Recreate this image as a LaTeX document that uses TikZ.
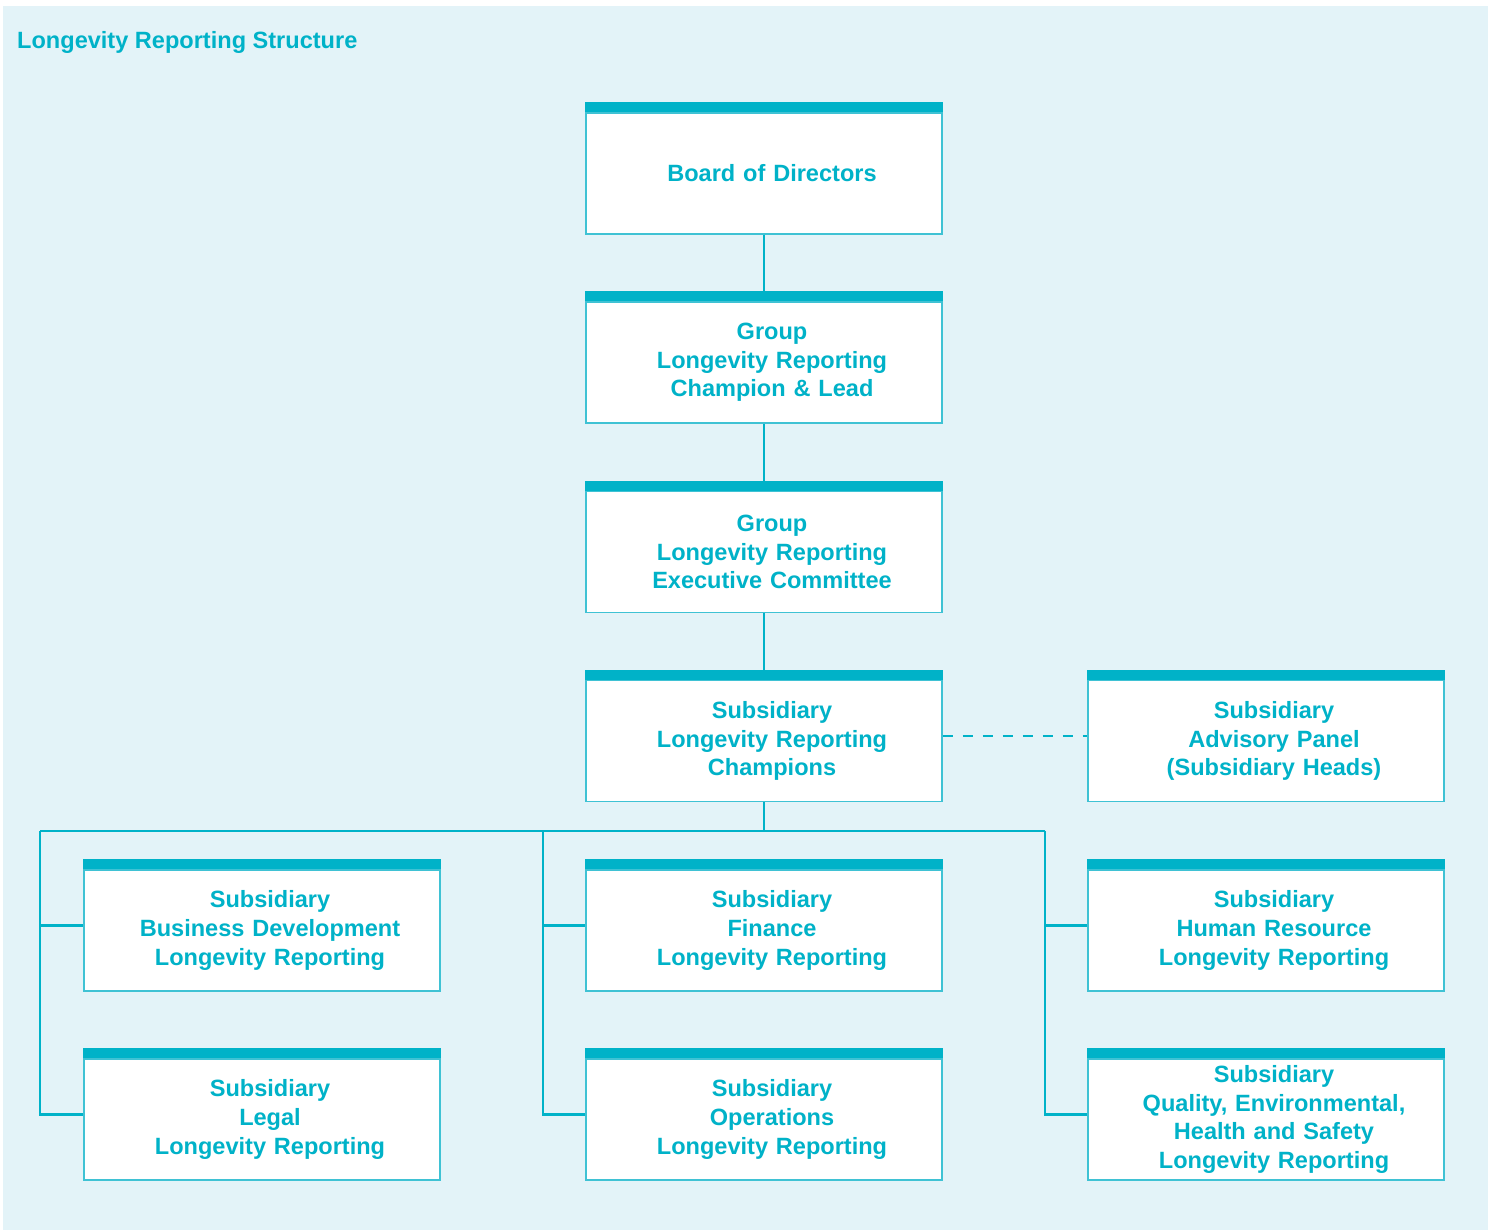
\documentclass[tikz,border=0pt]{standalone}
\usepackage{fontspec}
\setmainfont{Liberation Sans}
\usepackage{xcolor}
\usetikzlibrary{positioning}
\definecolor{lrcyan}{HTML}{00B2C8}
\definecolor{lrline}{HTML}{3FC2D4}
\definecolor{lrbg}{HTML}{E3F3F8}

\begin{document}
\begin{tikzpicture}[
  box/.style={draw=lrline, fill=white, line width=0.6pt, minimum width=7.12cm, minimum height=2.42cm,
              inner sep=0pt, text width=7.12cm, align=center, text=lrcyan,
              font=\fontsize{13.4}{16.3}\selectfont\bfseries,
              execute at begin node={\leftskip=0.32cm plus 1fil\rightskip=0pt plus 1fil}},
  bar/.style={fill=lrcyan},
  link/.style={draw=lrcyan, line width=1.25pt},
  dlink/.style={link, dash pattern=on 0.2cm off 0.2cm}
]
\fill[lrbg] (0.06,0) rectangle (29.76,24.48);
\useasboundingbox (0,0) rectangle (29.76,24.6);

% Title
\node[anchor=west, text=lrcyan, font=\fontsize{13.4}{16}\selectfont\bfseries] (title) at (0.22,23.76) {Longevity Reporting Structure};

% Main column
\node[box] (board) at (15.28,21.13) {Board of Directors};
\node[box] (champ) at (15.28,17.35) {Group\\Longevity Reporting\\Champion \& Lead};
\node[box] (exec)  at (15.28,13.56) {Group\\Longevity Reporting\\Executive Committee};
\node[box] (subch) at (15.28,9.78)  {Subsidiary\\Longevity Reporting\\Champions};
\node[box] (panel) at (25.32,9.78)  {Subsidiary\\Advisory Panel\\(Subsidiary Heads)};

% Subsidiary functions
\node[box] (bizdev)  at (5.24,5.99)  {Subsidiary\\Business Development\\Longevity Reporting};
\node[box] (finance) at (15.28,5.99) {Subsidiary\\Finance\\Longevity Reporting};
\node[box] (hr)      at (25.32,5.99) {Subsidiary\\Human Resource\\Longevity Reporting};
\node[box] (legal)   at (5.24,2.21)  {Subsidiary\\Legal\\Longevity Reporting};
\node[box] (ops)     at (15.28,2.21) {Subsidiary\\Operations\\Longevity Reporting};
\node[box] (qehs)    at (25.32,2.21) {Subsidiary\\Quality, Environmental,\\Health and Safety\\Longevity Reporting};

% top bars
\foreach \n in {board,champ,exec,subch,panel,bizdev,finance,hr,legal,ops,qehs}
  \fill[bar] (\n.north west) rectangle ([yshift=0.2cm]\n.north east);

% connectors
\draw[link] (board) -- (champ);
\draw[link] (champ) -- (exec);
\draw[link] (exec) -- (subch);
\draw[dlink] ([yshift=0.1cm]subch.east) -- ([yshift=0.1cm]panel.west);

\coordinate (busL) at (0.8,7.98);
\coordinate (busM) at (15.28,7.98);
\coordinate (busC) at (10.86,7.98);
\coordinate (busR) at (20.9,7.98);
\draw[link] (subch) -- (busM);
\draw[link] (busL) -- (busR);
\draw[link] (busL) |- ([yshift=0.1cm]bizdev.west);
\draw[link] (busL) |- ([yshift=0.1cm]legal.west);
\draw[link] (busC) |- ([yshift=0.1cm]finance.west);
\draw[link] (busC) |- ([yshift=0.1cm]ops.west);
\draw[link] (busR) |- ([yshift=0.1cm]hr.west);
\draw[link] (busR) |- ([yshift=0.1cm]qehs.west);

\end{tikzpicture}
\end{document}
